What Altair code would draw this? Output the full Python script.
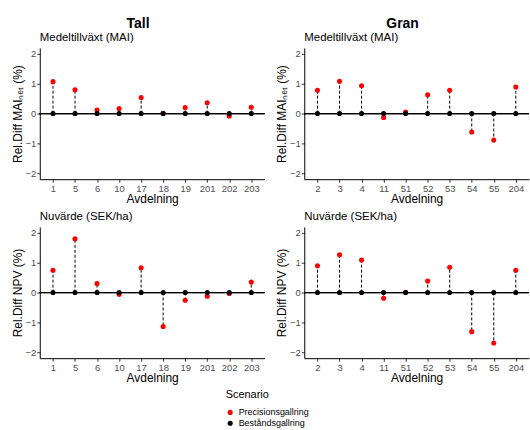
import altair as alt
import pandas as pd

tall_avd = ["1", "5", "6", "10", "17", "18", "19", "201", "202", "203"]
tall_mai = [1.07, 0.80, 0.12, 0.17, 0.54, 0.01, 0.20, 0.36, -0.08, 0.21]
tall_npv = [0.75, 1.80, 0.30, -0.06, 0.83, -1.14, -0.26, -0.12, -0.03, 0.35]

gran_avd = ["2", "3", "4", "11", "51", "52", "53", "54", "55", "204"]
gran_mai = [0.78, 1.08, 0.93, -0.13, 0.05, 0.63, 0.78, -0.62, -0.89, 0.89]
gran_npv = [0.90, 1.27, 1.09, -0.19, 0.01, 0.39, 0.85, -1.31, -1.69, 0.75]

scenarios = ["Precisionsgallring", "Beståndsgallring"]
colors = ["#FF0000", "#000000"]

FONT = "Liberation Sans"
yticks = [-2, -1.5, -1, -0.5, 0, 0.5, 1, 1.5, 2]


def panel(avd, vals, subtitle, ytitle):
    seg = pd.DataFrame({"avd": avd, "zero": [0.0] * len(avd), "value": vals})
    pts = pd.concat([
        pd.DataFrame({"avd": avd, "value": vals, "scenario": scenarios[0]}),
        pd.DataFrame({"avd": avd, "value": [0.0] * len(avd), "scenario": scenarios[1]}),
    ], ignore_index=True)
    xenc = alt.X("avd:N", sort=avd, title="Avdelning",
                 scale=alt.Scale(type="point", padding=0.6),
                 axis=alt.Axis(labelAngle=0))
    yscale = alt.Scale(domain=[-2.2, 2.2], nice=False, zero=False)
    yaxis = alt.Axis(values=yticks, labelExpr="datum.value % 1 === 0 ? datum.label : ''",
                     format="d")
    hline = alt.Chart(seg).mark_rule(color="black", strokeWidth=1).encode(
        y=alt.Y("zero:Q", scale=yscale, axis=yaxis, title=ytitle))
    dashes = alt.Chart(seg).mark_rule(color="black", strokeWidth=1, strokeDash=[3, 2]).encode(
        x=xenc, y=alt.Y("zero:Q", scale=yscale, axis=yaxis, title=ytitle), y2="value:Q")
    dots = alt.Chart(pts).mark_circle(size=26, opacity=1).encode(
        x=xenc,
        y=alt.Y("value:Q", scale=yscale, axis=yaxis, title=ytitle),
        color=alt.Color("scenario:N", scale=alt.Scale(domain=scenarios, range=colors),
                        legend=alt.Legend(title="Scenario", orient="none",
                                          legendX=187, legendY=343)),
    )
    return alt.layer(hline, dashes, dots).properties(
        width=226, height=132,
        title=alt.TitleParams(subtitle, anchor="start", fontSize=11.5, fontWeight="normal",
                              font=FONT, color="black", offset=4, frame="group"),
    )


mai_title = "Rel.Diff MAIₙₑₜ (%)"
npv_title = "Rel.Diff NPV (%)"

tall_col = alt.vconcat(
    panel(tall_avd, tall_mai, "Medeltillväxt (MAI)", mai_title),
    panel(tall_avd, tall_npv, "Nuvärde (SEK/ha)", npv_title),
    spacing=6,
    title=alt.TitleParams("Tall", anchor="middle", fontSize=14, fontWeight="bold", font=FONT,
                          color="black", offset=2),
)
gran_col = alt.vconcat(
    panel(gran_avd, gran_mai, "Medeltillväxt (MAI)", mai_title),
    panel(gran_avd, gran_npv, "Nuvärde (SEK/ha)", npv_title),
    spacing=6,
    title=alt.TitleParams("Gran", anchor="middle", fontSize=14, fontWeight="bold", font=FONT,
                          color="black", offset=2),
)

chart = alt.hconcat(tall_col, gran_col, spacing=10).properties(
    padding={"left": 11, "top": 15, "right": 0, "bottom": 0}
).configure_view(stroke=None).configure_axis(
    grid=False, domainColor="black", domainWidth=1, tickColor="#333333", tickSize=3,
    labelColor="#4D4D4D", labelFontSize=9.5, labelFont=FONT, titleFont=FONT,
    titleFontSize=12, titleFontWeight="normal", titleColor="black", labelPadding=1,
    titlePadding=1,
).configure_legend(
    titleFont=FONT, labelFont=FONT, titleFontSize=11, labelFontSize=9,
    titleFontWeight="normal", titleColor="black", labelColor="black",
    symbolSize=26, rowPadding=1, titlePadding=8, symbolType="circle",
).configure_concat(spacing=10)

chart.save("out.html", embed_options={"renderer": "svg", "actions": False})
